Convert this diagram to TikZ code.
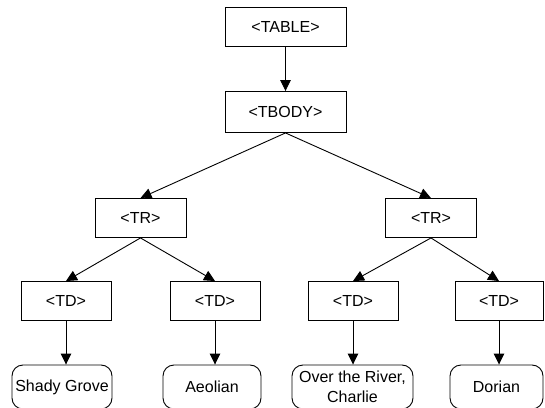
\documentclass[tikz,border=0pt]{standalone}
\usepackage{fontspec}
\setmainfont{Liberation Sans}
\usetikzlibrary{arrows.meta, positioning}

\begin{document}
\begin{tikzpicture}[x=1pt, y=1pt, line width=0.9pt,
    tag/.style={draw, rectangle, minimum height=39pt, inner sep=0pt,
        font=\fontsize{16}{18}\selectfont},
    leaf/.style={draw, rounded corners=11pt, minimum height=44pt, inner sep=0pt,
        align=center, font=\fontsize{16}{20}\selectfont},
    link/.style={-{Triangle[length=11pt, width=10.5pt]}}]
    \useasboundingbox (0,0) rectangle (545,407);
    \clip (0,0) rectangle (545,407);

    \node[tag, minimum width=121pt] (table) at (285.5,380) {<TABLE>};
    \node[tag, minimum width=121pt, minimum height=41pt] (tbody) at (285.5,295) {<TBODY>};

    \node[tag, minimum width=91pt] (trA) at (140.5,189) {<TR>};
    \node[tag, minimum width=91pt] (trB) at (431,189) {<TR>};

    \node[tag, minimum width=90pt] (tdA) at (66,106) {<TD>};
    \node[tag, minimum width=90pt] (tdB) at (215,106) {<TD>};
    \node[tag, minimum width=90pt] (tdC) at (353,106) {<TD>};
    \node[tag, minimum width=88pt] (tdD) at (499,106) {<TD>};

    \node[leaf, minimum width=100pt] (songA) at (62,20) {Shady Grove};
    \node[leaf, minimum width=98pt] (songB) at (212,20) {Aeolian};
    \node[leaf, minimum width=121pt] (songC) at (352.5,20) {Over the River,\\Charlie};
    \node[leaf, minimum width=93pt] (songD) at (496.5,20) {Dorian};

    \draw[link] (table) -- (tbody);
    \draw[link] (tbody.south) -- (trA.north);
    \draw[link] (tbody.south) -- (trB.north);
    \draw[link] (trA.south) -- (tdA.north);
    \draw[link] (trA.south) -- (tdB.north);
    \draw[link] (trB.south) -- (tdC.north);
    \draw[link] (trB.south) -- (tdD.north);
    \draw[link] (tdA) -- (tdA |- songA.north);
    \draw[link] (tdB) -- (tdB |- songB.north);
    \draw[link] (tdC) -- (tdC |- songC.north);
    \draw[link] (tdD) -- (tdD |- songD.north);
\end{tikzpicture}
\end{document}
